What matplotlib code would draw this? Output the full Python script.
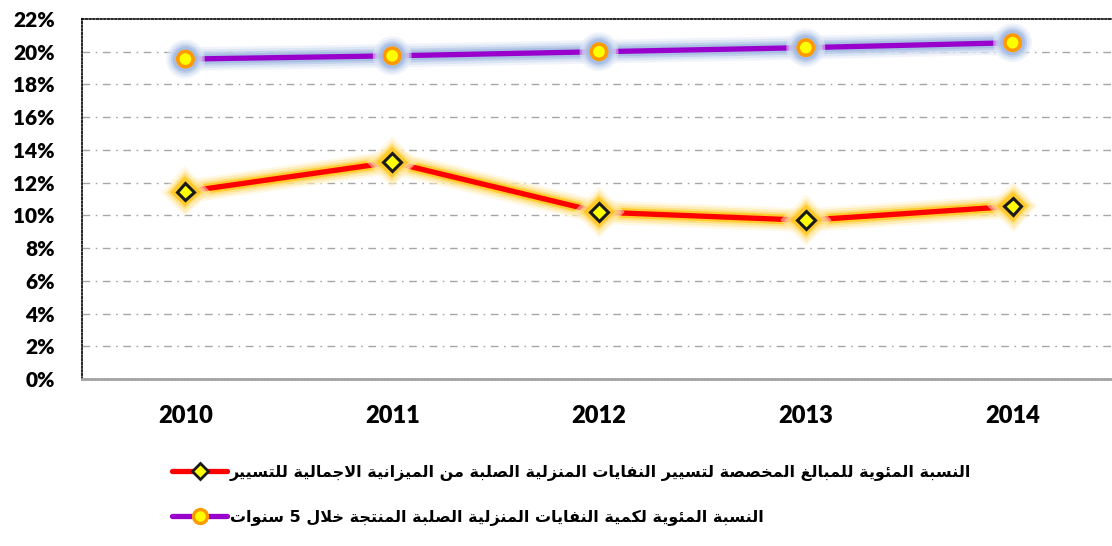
import matplotlib
matplotlib.use("Agg")
import matplotlib.pyplot as plt
import matplotlib.patheffects as pe
from matplotlib.lines import Line2D
from matplotlib.ticker import FuncFormatter

# ---- data -------------------------------------------------------------
years = ["2010", "2011", "2012", "2013", "2014"]
budget_share = [11.45, 13.25, 10.2, 9.7, 10.55]      # % of total management budget
waste_share = [19.55, 19.75, 20.0, 20.25, 20.55]      # % of waste produced over 5 years
y_ticks = [0, 2, 4, 6, 8, 10, 12, 14, 16, 18, 20, 22]

label_budget = "النسبة المئوية للمبالغ المخصصة لتسيير النفايات المنزلية الصلبة من الميزانية الاجمالية للتسيير"
label_waste = "النسبة المئوية لكمية النفايات المنزلية الصلبة المنتجة خلال 5 سنوات"

# ---- minimal Arabic shaping (matplotlib has no text shaping) -----------
FORMS = {  # isolated, final, initial, medial
    '\u0621': (0xFE80, None, None, None),
    '\u0622': (0xFE81, 0xFE82, None, None),
    '\u0623': (0xFE83, 0xFE84, None, None),
    '\u0624': (0xFE85, 0xFE86, None, None),
    '\u0625': (0xFE87, 0xFE88, None, None),
    '\u0626': (0xFE89, 0xFE8A, 0xFE8B, 0xFE8C),
    '\u0627': (0xFE8D, 0xFE8E, None, None),
    '\u0628': (0xFE8F, 0xFE90, 0xFE91, 0xFE92),
    '\u0629': (0xFE93, 0xFE94, None, None),
    '\u062A': (0xFE95, 0xFE96, 0xFE97, 0xFE98),
    '\u062B': (0xFE99, 0xFE9A, 0xFE9B, 0xFE9C),
    '\u062C': (0xFE9D, 0xFE9E, 0xFE9F, 0xFEA0),
    '\u062D': (0xFEA1, 0xFEA2, 0xFEA3, 0xFEA4),
    '\u062E': (0xFEA5, 0xFEA6, 0xFEA7, 0xFEA8),
    '\u062F': (0xFEA9, 0xFEAA, None, None),
    '\u0630': (0xFEAB, 0xFEAC, None, None),
    '\u0631': (0xFEAD, 0xFEAE, None, None),
    '\u0632': (0xFEAF, 0xFEB0, None, None),
    '\u0633': (0xFEB1, 0xFEB2, 0xFEB3, 0xFEB4),
    '\u0634': (0xFEB5, 0xFEB6, 0xFEB7, 0xFEB8),
    '\u0635': (0xFEB9, 0xFEBA, 0xFEBB, 0xFEBC),
    '\u0636': (0xFEBD, 0xFEBE, 0xFEBF, 0xFEC0),
    '\u0637': (0xFEC1, 0xFEC2, 0xFEC3, 0xFEC4),
    '\u0638': (0xFEC5, 0xFEC6, 0xFEC7, 0xFEC8),
    '\u0639': (0xFEC9, 0xFECA, 0xFECB, 0xFECC),
    '\u063A': (0xFECD, 0xFECE, 0xFECF, 0xFED0),
    '\u0641': (0xFED1, 0xFED2, 0xFED3, 0xFED4),
    '\u0642': (0xFED5, 0xFED6, 0xFED7, 0xFED8),
    '\u0643': (0xFED9, 0xFEDA, 0xFEDB, 0xFEDC),
    '\u0644': (0xFEDD, 0xFEDE, 0xFEDF, 0xFEE0),
    '\u0645': (0xFEE1, 0xFEE2, 0xFEE3, 0xFEE4),
    '\u0646': (0xFEE5, 0xFEE6, 0xFEE7, 0xFEE8),
    '\u0647': (0xFEE9, 0xFEEA, 0xFEEB, 0xFEEC),
    '\u0648': (0xFEED, 0xFEEE, None, None),
    '\u0649': (0xFEEF, 0xFEF0, None, None),
    '\u064A': (0xFEF1, 0xFEF2, 0xFEF3, 0xFEF4),
}
LAM_ALEF = {'\u0627': (0xFEFB, 0xFEFC), '\u0623': (0xFEF7, 0xFEF8),
            '\u0625': (0xFEF9, 0xFEFA), '\u0622': (0xFEF5, 0xFEF6)}


def joins_next(ch):
    return ch in FORMS and FORMS[ch][2] is not None


def shape_word(word):
    out = []
    i = 0
    n = len(word)
    prev_joins = False
    while i < n:
        ch = word[i]
        if ch not in FORMS:
            out.append(ch)
            prev_joins = False
            i += 1
            continue
        if ch == '\u0644' and i + 1 < n and word[i + 1] in LAM_ALEF:
            iso, fin = LAM_ALEF[word[i + 1]]
            out.append(chr(fin if prev_joins else iso))
            prev_joins = False
            i += 2
            continue
        nxt = word[i + 1] if i + 1 < n else ''
        next_j = nxt in FORMS and nxt != '\u0621' and joins_next(ch)
        iso, fin, ini, med = FORMS[ch]
        if prev_joins and next_j:
            code = med
        elif prev_joins:
            code = fin
        elif next_j:
            code = ini
        else:
            code = iso
        out.append(chr(code))
        prev_joins = joins_next(ch)
        i += 1
    return ''.join(out)


def rtl(text):
    vis = []
    for w in reversed(text.split(' ')):
        if any(c in FORMS for c in w):
            vis.append(shape_word(w)[::-1])
        else:
            vis.append(w)
    return ' '.join(vis)


# ---- figure -----------------------------------------------------------
W, H, DPI = 1112, 546, 100
fig = plt.figure(figsize=(W / DPI, H / DPI), dpi=DPI)
ax = fig.add_axes([82 / W, 167 / H, 1034 / W, 360 / H])

x = list(range(len(years)))

red_glow = [pe.Stroke(linewidth=17, foreground="#FFF2CC", alpha=0.5),
            pe.Stroke(linewidth=13.5, foreground="#FFE699", alpha=0.55),
            pe.Stroke(linewidth=10, foreground="#FFD966", alpha=0.65),
            pe.Stroke(linewidth=7, foreground="#FFC000", alpha=0.65),
            pe.Normal()]
blue_glow = [pe.Stroke(linewidth=17, foreground="#E4EBF7", alpha=0.55),
             pe.Stroke(linewidth=13.5, foreground="#CFDCF0", alpha=0.6),
             pe.Stroke(linewidth=10, foreground="#B4C7E7", alpha=0.65),
             pe.Stroke(linewidth=7, foreground="#9DB5E0", alpha=0.65),
             pe.Normal()]

ax.plot(x, waste_share, color="#9900CC", lw=3.8, marker="o", ms=11,
        mfc="#FFFF00", mec="#FF9900", mew=2.6, solid_capstyle="round",
        path_effects=blue_glow, zorder=4)
ax.plot(x, budget_share, color="#FF0000", lw=3.8, marker="D", ms=9,
        mfc="#FFFF00", mec="#1a1a1a", mew=2.2, solid_capstyle="round",
        path_effects=red_glow, zorder=5)

ax.set_xlim(-0.5, len(years) - 0.5)
ax.set_ylim(0, 22)
ax.set_yticks(y_ticks)
ax.yaxis.set_major_formatter(FuncFormatter(lambda v, _: f"{v:.0f}%"))
ax.set_xticks(x)
ax.set_xticklabels(years)

for lab in ax.get_yticklabels():
    lab.set_fontfamily("Lato")
    lab.set_fontweight("heavy")
    lab.set_fontsize(15)
for lab in ax.get_xticklabels():
    lab.set_fontfamily("Lato")
    lab.set_fontweight("heavy")
    lab.set_fontsize(17)
ax.tick_params(axis="both", length=0)
ax.tick_params(axis="y", pad=19.5)
ax.tick_params(axis="x", pad=18.5)

# horizontal dash-dot grid (2% .. 20%)
for v in y_ticks[1:-1]:
    ax.axhline(v, color="#A6A6A6", lw=1.0, dashes=(5.5, 4, 1.2, 4), zorder=1)

ax.spines["right"].set_visible(False)
for side in ("top", "left"):
    ax.spines[side].set_color("#000000")
    ax.spines[side].set_linewidth(1.2)
    ax.spines[side].set_linestyle((0, (1, 1.2)))
ax.spines["bottom"].set_color("#A6A6A6")
ax.spines["bottom"].set_linewidth(2.0)
ax.spines["bottom"].set_linestyle((0, (0.6, 0.6)))

# legend
h1 = Line2D([], [], color="#FF0000", lw=3.8, marker="D", ms=8,
            mfc="#FFFF00", mec="#1a1a1a", mew=2.0, solid_capstyle="round")
h2 = Line2D([], [], color="#9900CC", lw=3.8, marker="o", ms=10,
            mfc="#FFFF00", mec="#FF9900", mew=2.4, solid_capstyle="round")
leg = fig.legend([h1, h2], [rtl(label_budget), rtl(label_waste)],
                 loc="upper left", bbox_to_anchor=(172 / W, 1 - 465 / H),
                 frameon=False, handlelength=3.45, handletextpad=0.15,
                 labelspacing=1.8, borderaxespad=0, borderpad=0,
                 prop=dict(family="DejaVu Sans", weight="bold", size=11.5))

fig.savefig("out.png", dpi=DPI)
